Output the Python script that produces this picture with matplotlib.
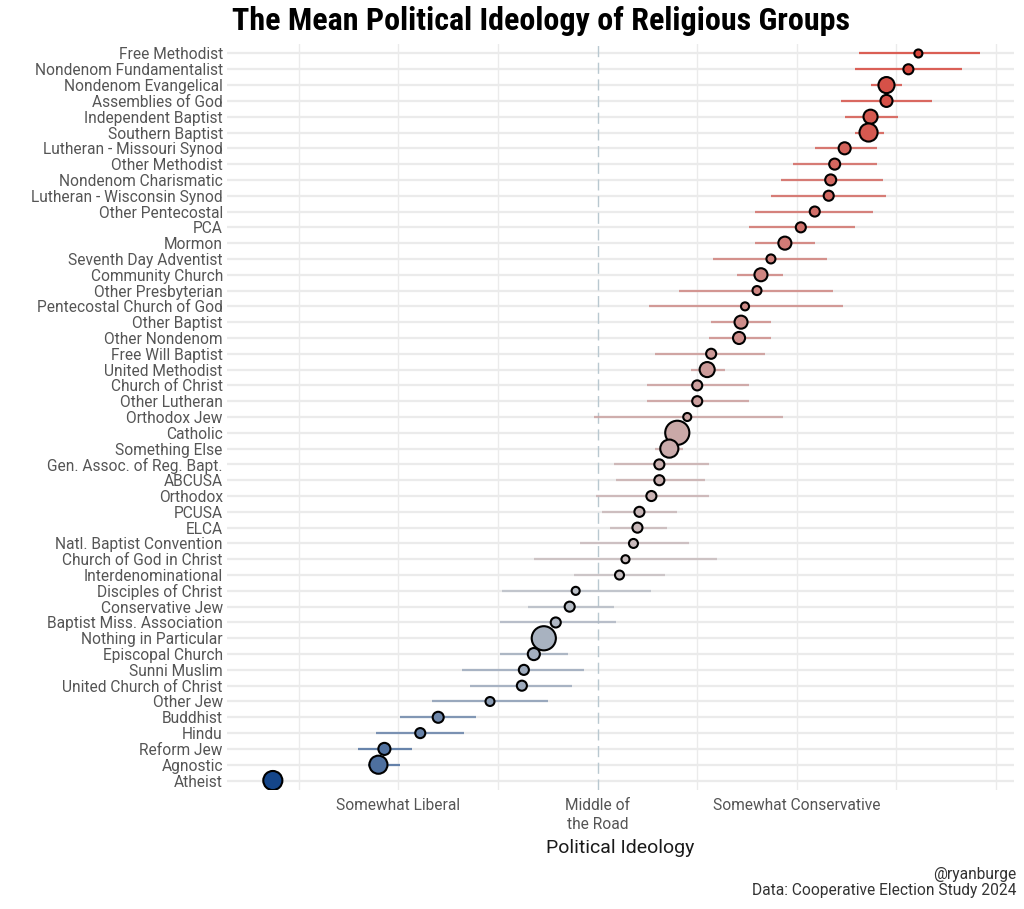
import numpy as np
import matplotlib.pyplot as plt
from matplotlib import font_manager
from matplotlib.colors import LinearSegmentedColormap, TwoSlopeNorm

# groups listed top to bottom
groups = ['Free Methodist', 'Nondenom Fundamentalist', 'Nondenom Evangelical',
          'Assemblies of God', 'Independent Baptist', 'Southern Baptist',
          'Lutheran - Missouri Synod', 'Other Methodist', 'Nondenom Charismatic',
          'Lutheran - Wisconsin Synod', 'Other Pentecostal', 'PCA', 'Mormon',
          'Seventh Day Adventist', 'Community Church', 'Other Presbyterian',
          'Pentecostal Church of God', 'Other Baptist', 'Other Nondenom',
          'Free Will Baptist', 'United Methodist', 'Church of Christ',
          'Other Lutheran', 'Orthodox Jew', 'Catholic', 'Something Else',
          'Gen. Assoc. of Reg. Bapt.', 'ABCUSA', 'Orthodox', 'PCUSA', 'ELCA',
          'Natl. Baptist Convention', 'Church of God in Christ',
          'Interdenominational', 'Disciples of Christ', 'Conservative Jew',
          'Baptist Miss. Association', 'Nothing in Particular',
          'Episcopal Church', 'Sunni Muslim', 'United Church of Christ',
          'Other Jew', 'Buddhist', 'Hindu', 'Reform Jew', 'Agnostic', 'Atheist']

means = [5.61, 5.56, 5.45, 5.45, 5.37, 5.36, 5.24, 5.19, 5.17, 5.16, 5.09, 5.02,
         4.94, 4.87, 4.82, 4.80, 4.74, 4.72, 4.71, 4.57, 4.55, 4.50, 4.50, 4.45,
         4.40, 4.36, 4.31, 4.31, 4.27, 4.21, 4.20, 4.18, 4.14, 4.11, 3.89, 3.86,
         3.79, 3.73, 3.68, 3.63, 3.62, 3.46, 3.20, 3.11, 2.93, 2.90, 2.37]

lows = [5.31, 5.29, 5.37, 5.22, 5.24, 5.29, 5.09, 4.98, 4.92, 4.87, 4.79, 4.76,
        4.79, 4.58, 4.70, 4.41, 4.26, 4.57, 4.56, 4.29, 4.47, 4.25, 4.25, 3.98,
        4.38, 4.29, 4.08, 4.09, 3.99, 4.02, 4.06, 3.91, 3.68, 3.88, 3.52, 3.65,
        3.51, 3.71, 3.51, 3.32, 3.36, 3.17, 3.01, 2.89, 2.80, 2.85, 2.32]

highs = [5.92, 5.83, 5.53, 5.68, 5.51, 5.44, 5.40, 5.40, 5.43, 5.45, 5.38, 5.29,
         5.09, 5.15, 4.93, 5.18, 5.23, 4.87, 4.87, 4.84, 4.64, 4.76, 4.76, 4.93,
         4.42, 4.43, 4.56, 4.54, 4.56, 4.40, 4.35, 4.46, 4.60, 4.34, 4.27, 4.08,
         4.09, 3.75, 3.85, 3.93, 3.87, 3.75, 3.39, 3.33, 3.07, 3.01, 2.42]

# rough sample sizes (drive point area)
n_resp = [800, 1250, 3200, 1800, 2450, 4050, 1800, 1500, 1500, 1250, 1250, 1250,
          2100, 1000, 2100, 1000, 800, 2100, 1800, 1250, 2800, 1250, 1250, 800,
          7200, 4050, 1250, 1250, 1250, 1250, 1250, 1000, 800, 1000, 800, 1250,
          1250, 7200, 1800, 1250, 1250, 1000, 1500, 1250, 1800, 4050, 4500]

tick_vals = [3, 4, 5]
tick_labels = ['Somewhat Liberal', 'Middle of\nthe Road', 'Somewhat Conservative']


def pick(fams):
    for f in fams:
        try:
            font_manager.findfont(f, fallback_to_default=False)
            return f
        except Exception:
            pass
    return 'DejaVu Sans'


body = pick(['Roboto', 'Lato', 'DejaVu Sans'])
head = pick(['Roboto Condensed', 'Liberation Sans Narrow', 'DejaVu Sans'])
plt.rcParams['font.family'] = [body, 'DejaVu Sans']

cmap = LinearSegmentedColormap.from_list('ideo', ['#15468a', '#c6c8cb', '#d8453a'])
norm = TwoSlopeNorm(vmin=min(means), vcenter=4.0, vmax=max(means))

fig = plt.figure(figsize=(10.24, 9.09), dpi=100)
ax = fig.add_axes([227/1024, 1 - 790/909, (1014 - 227)/1024, (790 - 44)/909])

n = len(groups)
y = np.arange(n)[::-1]
means = np.array(means)
cols = cmap(norm(means))

# grid
for yy in y:
    ax.axhline(yy, color='#ebebeb', lw=1.6, zorder=0)
for xx in [2.5, 3, 3.5, 4.5, 5, 5.5, 6.0]:
    ax.axvline(xx, color='#ebebeb', lw=1.0, zorder=0)
ax.axvline(4, color='#b9c8d0', lw=1.0, ls=(0, (8, 4)), zorder=1)

ax.hlines(y, lows, highs, colors=cols, lw=1.6, alpha=0.85, zorder=2)
sizes = np.array(n_resp) * 0.042
ax.scatter(means, y, s=sizes, c=cols, edgecolors='black', linewidths=1.5, zorder=3)

txt = '#555555'
ax.set_xlim(2.14, 6.09)
ax.set_ylim(-0.6, n - 0.4)
ax.set_yticks(y)
ax.set_yticklabels(groups, fontsize=11.2, color=txt)
ax.set_xticks(tick_vals)
ax.set_xticklabels(tick_labels, fontsize=11.2, color=txt, linespacing=1.3, va='top')
ax.tick_params(length=0, pad=3)
ax.tick_params(axis='x', pad=6)
for s in ax.spines.values():
    s.set_visible(False)
ax.set_xlabel('Political Ideology', fontsize=14, color='#1a1a1a', labelpad=5)

fig.text(541/1024, 1 - 21/909, 'The Mean Political Ideology of Religious Groups',
         family=[head, 'DejaVu Sans'], fontweight='bold', fontsize=23,
         ha='center', va='center', color='black')
fig.text(1016/1024, 1 - 874/909, '@ryanburge', fontsize=11.2,
         ha='right', va='center', color='#333333')
fig.text(1016/1024, 1 - 891/909, 'Data: Cooperative Election Study 2024', fontsize=11.2,
         ha='right', va='center', color='#333333')

fig.savefig('out.png', dpi=100, facecolor='white')
